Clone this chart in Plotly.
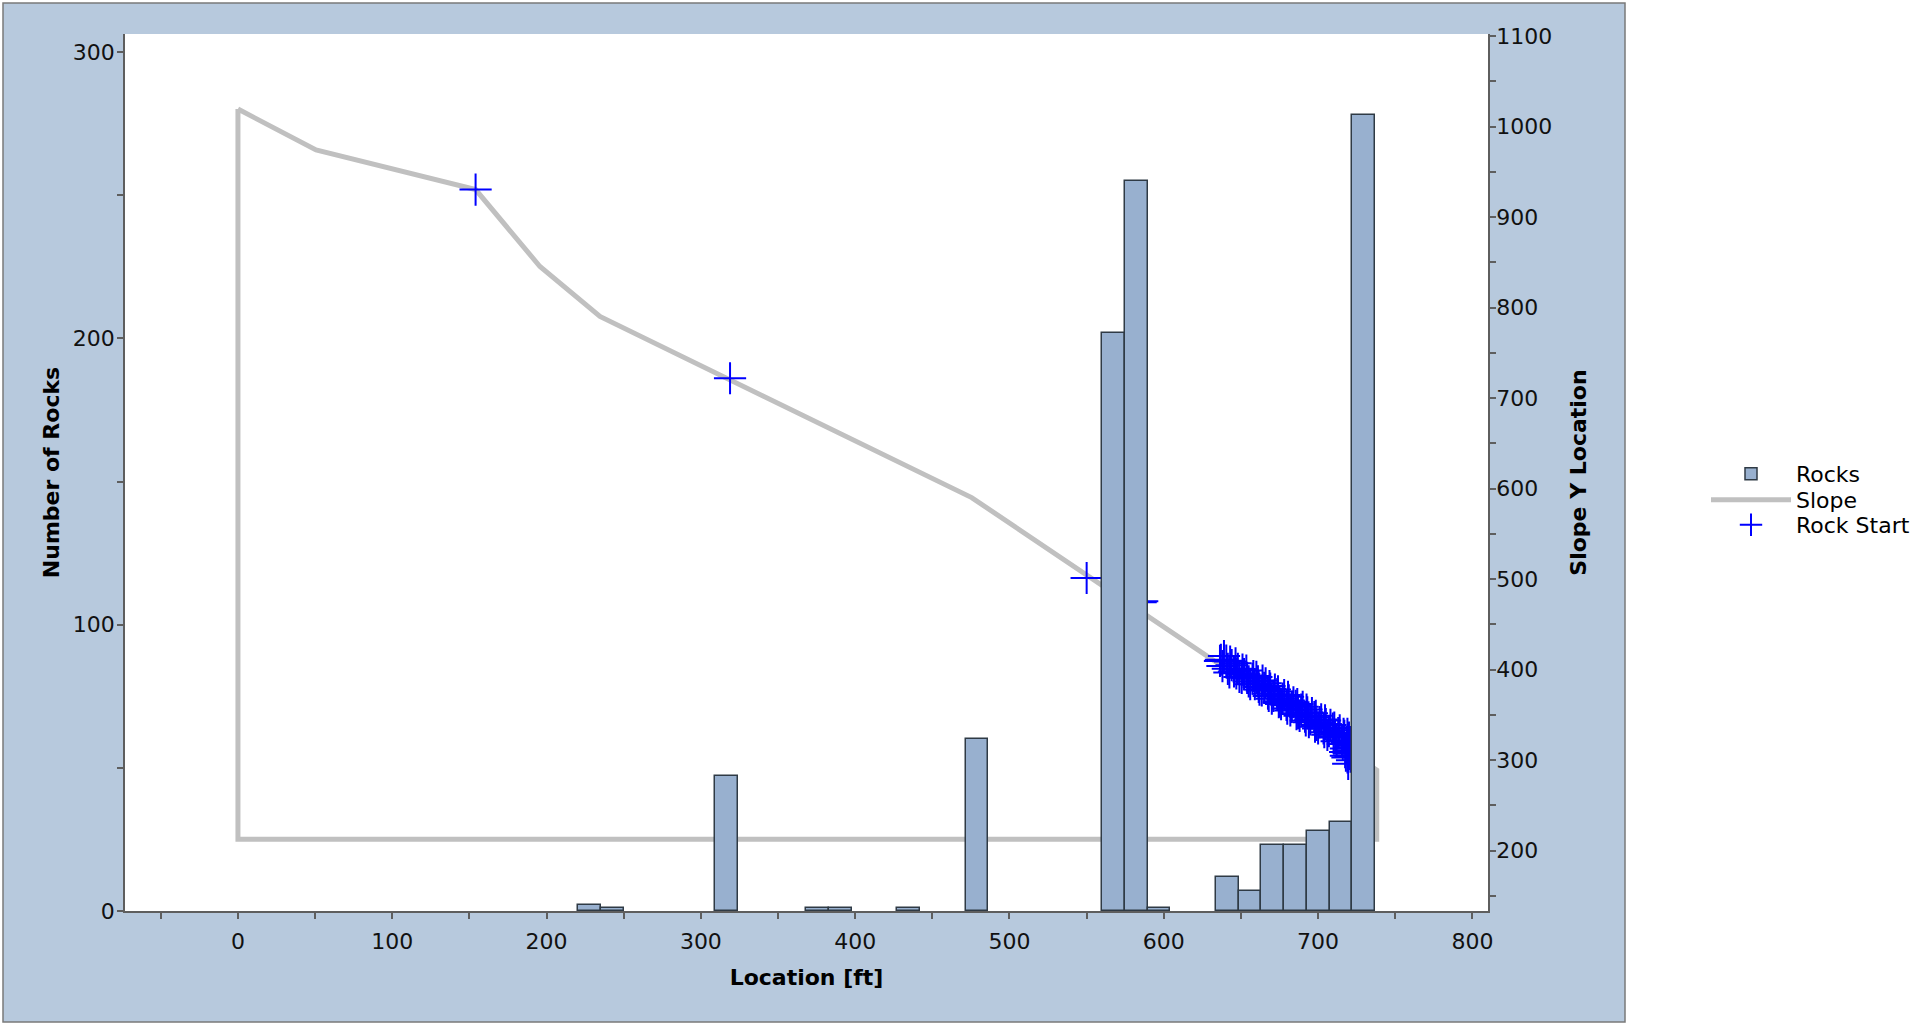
import plotly.graph_objects as go

# ---------------- data ----------------
# Histogram of rock stopping locations (bin centres in ft, counts)
BIN_WIDTH = 14.75
bin_centers = [228.0, 242.7, 316.7, 375.7, 390.4, 434.7, 478.9, 567.4, 582.1,
               596.9, 641.1, 655.9, 670.6, 685.4, 700.1, 714.9, 729.6]
rock_counts = [2, 1, 47, 1, 1, 1, 60, 202, 255,
               1, 12, 7, 23, 23, 28, 31, 278]

# Slope profile (closed outline): location [ft] vs Y location
slope_x = [0, 50.6, 154.0, 195.7, 234.6, 475.5, 738.0, 738.0, 0, 0]
slope_y = [1019.4, 974.2, 930.4, 845.4, 790.2, 590.1, 289.0, 212.6, 212.6, 1019.4]

# Rock start positions
start_x = [154.0, 318.9, 550.0, 585.0, 586.0,
           636.4, 637.0, 641.5, 644.0, 645.5, 648.0, 650.5, 652.0, 655.0, 657.5,
           659.0, 661.0, 663.5, 665.0, 667.5, 669.0, 671.0, 673.5, 675.0, 677.0,
           679.5, 681.0, 683.0, 685.5, 687.0, 689.0, 691.5, 693.0, 695.0, 697.5,
           699.0, 701.0, 703.5, 705.0, 707.0, 709.5, 711.0, 713.0, 715.5, 717.0,
           718.5, 720.0, 721.5, 718.0, 719.0, 720.0, 721.0, 717.5, 721.5,
           639.0, 642.5, 646.5, 649.0, 653.5, 656.0, 660.0, 662.0, 666.0, 668.0,
           672.0, 674.5, 678.0, 680.0, 684.0, 686.0, 690.0, 692.0, 696.0, 698.0,
           702.0, 704.0, 708.0, 710.0, 714.0, 716.0, 719.0, 720.5, 722.0, 719.5,
           638.0, 640.5, 643.0, 647.0, 651.0, 654.0, 658.0, 661.5, 664.0, 668.5,
           670.0, 674.0, 676.0, 680.5, 682.0, 686.5, 688.0, 692.5, 694.0, 698.5,
           700.0, 704.5, 706.0, 710.5, 712.0, 716.5, 718.0, 721.0]
start_y = [930.4, 722.0, 501.3, 474.4, 475.5,
           409.7, 411.0, 401.0, 405.0, 398.0, 401.0, 391.0, 395.0, 387.0, 390.0,
           384.0, 387.0, 377.0, 380.0, 373.5, 379.0, 371.0, 373.0, 365.0, 368.0,
           361.0, 366.0, 359.0, 360.0, 352.0, 356.0, 348.0, 353.0, 345.0, 347.5,
           339.0, 342.0, 335.0, 340.0, 332.0, 335.0, 326.0, 330.0, 322.0, 327.0,
           320.0, 325.0, 316.0, 305.0, 303.0, 307.0, 304.0, 309.0, 311.0,
           415.0, 397.0, 407.0, 392.0, 399.0, 384.0, 392.0, 378.0, 385.0, 371.0,
           378.0, 364.0, 372.0, 357.0, 364.0, 351.0, 359.0, 344.0, 352.0, 337.0,
           345.0, 331.0, 339.0, 325.0, 333.0, 318.0, 329.0, 314.0, 300.0, 296.0,
           404.0, 410.0, 409.0, 396.0, 400.0, 391.0, 393.0, 381.0, 388.0, 382.0,
           368.0, 376.0, 362.0, 370.0, 355.0, 362.0, 349.0, 356.0, 342.0, 349.0,
           335.0, 344.0, 328.0, 336.0, 321.0, 329.0, 313.0, 320.0]

# ---------------- layout constants ----------------
W, H = 1928, 1024
ML, MR, MT, MB = 125, 440, 34, 113
PW, PH = W - ML - MR, H - MT - MB
FONT = "DejaVu Sans, Verdana, sans-serif"
PANEL = "#B7C9DD"
AXIS = "#5E5E5E"
X_RANGE = [-73.2, 810.1]
Y_RIGHT_RANGE = [133.4, 1102.3]
Y_LEFT_RANGE = [0, 306.3]


def px_to_paper_x(px):
    return (px - ML) / PW


def px_to_paper_y(py):
    return (H - MB - py) / PH


fig = go.Figure()

fig.add_trace(go.Bar(
    x=bin_centers, y=rock_counts, width=BIN_WIDTH, name="Rocks",
    marker=dict(color="#98B0CF", line=dict(color="#2F3A45", width=1.5)),
    yaxis="y2", xaxis="x", legend="legend",
))

fig.add_trace(go.Scatter(
    x=slope_x, y=slope_y, mode="lines", name="Slope",
    line=dict(color="#C0C0C0", width=5),
    yaxis="y", xaxis="x", legend="legend2",
))

fig.add_trace(go.Scatter(
    x=start_x, y=start_y, mode="markers", name="Rock Start",
    marker=dict(symbol="cross-thin", size=23, color="#0000FF",
                line=dict(color="#0000FF", width=2)),
    yaxis="y", xaxis="x", legend="legend3",
))

tickfont = dict(family=FONT, size=22, color="#111111")
titlefont = dict(family=FONT, size=22, color="#000000", weight="bold")


def minor(where, length):
    return dict(dtick=50, tick0=0, ticks=where, ticklen=length,
                tickcolor=AXIS, tickwidth=1.5, showgrid=False)


def inner_ticks(rng, side, overlay, anchor):
    # companion axis that draws the inner half of the crossing tick marks
    return dict(range=rng, side=side, overlaying=overlay, anchor=anchor,
                dtick=50, tick0=0, ticks="inside", ticklen=5,
                tickcolor=AXIS, tickwidth=1.5, showticklabels=False,
                showgrid=False, zeroline=False, showline=False)


def legend_at(center_py):
    return dict(
        xref="container", yref="container",
        x=1706 / W, y=1 - center_py / H, xanchor="left", yanchor="middle",
        font=dict(family=FONT, size=22, color="#000000"),
        itemwidth=80, bgcolor="rgba(0,0,0,0)", borderwidth=0,
    )


fig.update_layout(
    width=W, height=H,
    margin=dict(l=ML, r=MR, t=MT, b=MB, pad=0),
    paper_bgcolor="white",
    plot_bgcolor="white",
    bargap=0,
    showlegend=True,
    legend=legend_at(474),
    legend2=legend_at(500),
    legend3=legend_at(525),
    xaxis=dict(
        range=X_RANGE, dtick=100, tick0=0,
        showgrid=False, zeroline=False,
        showline=True, linecolor=AXIS, linewidth=1.5,
        ticks="outside", ticklen=6, tickcolor=AXIS, tickwidth=1.5,
        minor=minor("outside", 6),
        tickfont=tickfont, ticklabelstandoff=4,
        title=dict(text="Location [ft]", font=titlefont, standoff=16),
    ),
    yaxis=dict(
        side="right",
        range=Y_RIGHT_RANGE, dtick=100, tick0=0,
        showgrid=False, zeroline=False,
        showline=True, linecolor=AXIS, linewidth=1.5,
        ticks="outside", ticklen=6, tickcolor=AXIS, tickwidth=1.5,
        minor=minor("outside", 6),
        tickfont=tickfont, ticklabelstandoff=-4,
        title=dict(text="Slope Y Location", font=titlefont, standoff=19),
    ),
    yaxis2=dict(
        overlaying="y", side="left",
        range=Y_LEFT_RANGE, dtick=100, tick0=0,
        showgrid=False, zeroline=False,
        showline=True, linecolor=AXIS, linewidth=1.5,
        ticks="outside", ticklen=6, tickcolor=AXIS, tickwidth=1.5,
        minor=minor("outside", 6),
        tickfont=tickfont, ticklabelstandoff=-2,
        title=dict(text="Number of Rocks", font=titlefont, standoff=7),
    ),
    xaxis2=inner_ticks(X_RANGE, "bottom", "x", "y"),
    yaxis3=inner_ticks(Y_RIGHT_RANGE, "right", "y", "x"),
    yaxis4=inner_ticks(Y_LEFT_RANGE, "left", "y", "x"),
    shapes=[
        dict(type="rect", xref="paper", yref="paper", layer="below",
             x0=px_to_paper_x(3), x1=px_to_paper_x(1625),
             y0=px_to_paper_y(1022), y1=px_to_paper_y(3),
             fillcolor=PANEL, line=dict(color="#7A7A7A", width=1.5)),
        dict(type="rect", xref="paper", yref="paper", layer="below",
             x0=0, x1=1, y0=0, y1=1,
             fillcolor="white", line=dict(width=0)),
    ],
)

fig.write_html("out.html", config={"displayModeBar": False},
               post_script="document.body.style.margin='0';")
